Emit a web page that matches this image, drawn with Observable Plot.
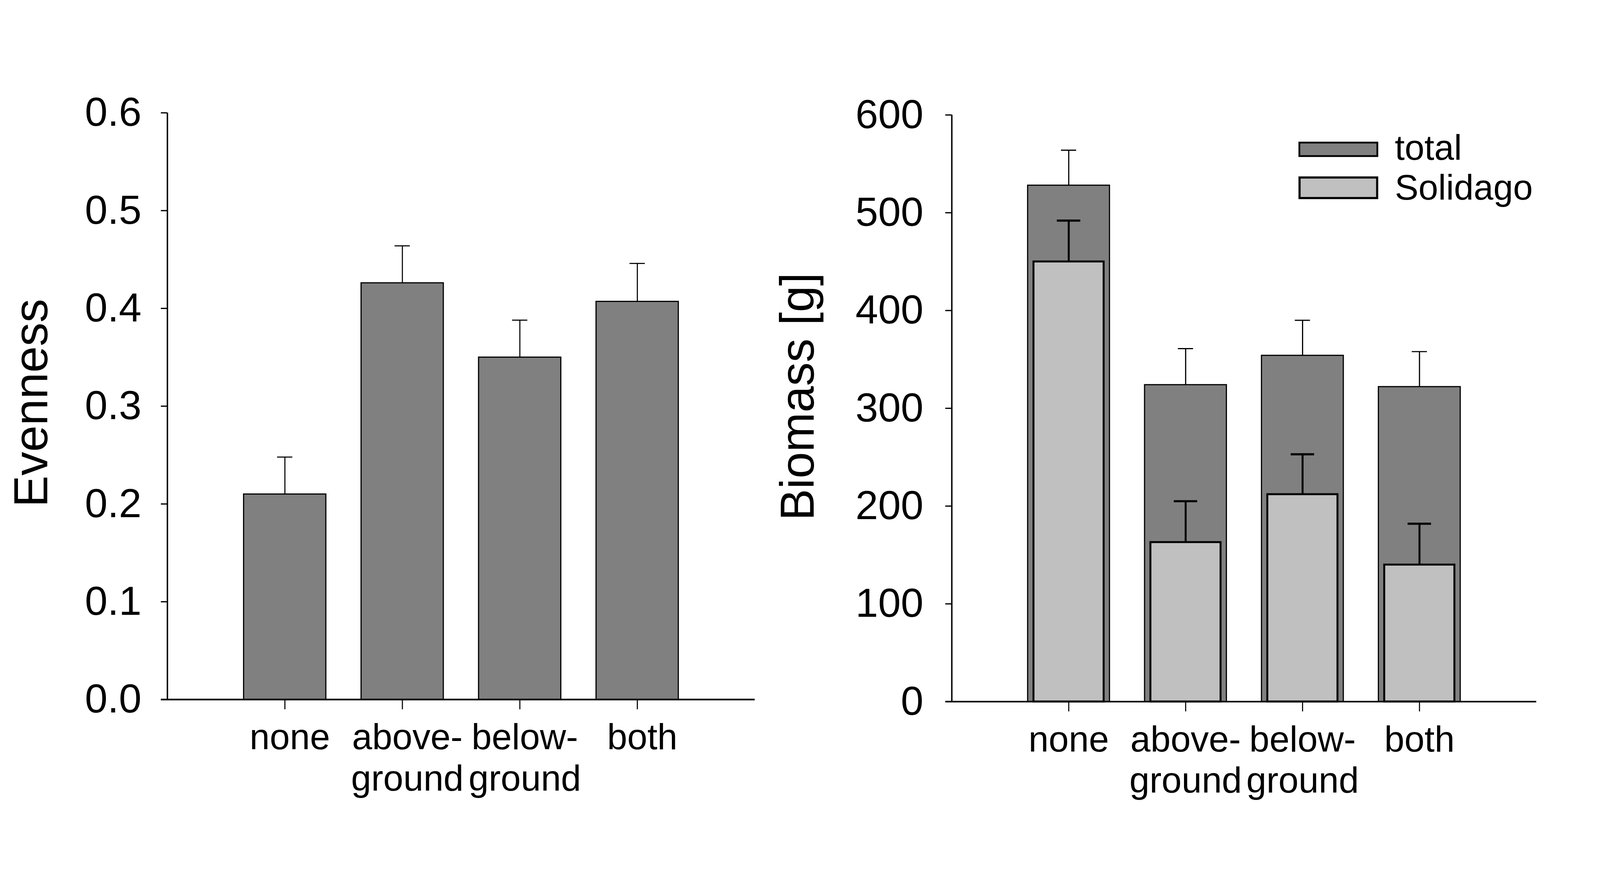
<!DOCTYPE html>
<html>
<head>
<meta charset="utf-8">
<script src="https://cdn.jsdelivr.net/npm/d3@7"></script>
<script src="https://cdn.jsdelivr.net/npm/@observablehq/plot@0.6"></script>
<style>
  html, body { margin: 0; padding: 0; background: #fff; overflow: hidden; }
  #wrap { position: relative; width: 4516px; height: 2258px; background: #fff;
          transform-origin: 0 0;
          font-family: 'Liberation Sans', Arial, sans-serif; }
  .panel { position: absolute; top: 0; }
  .panel svg { overflow: visible; }
  g[aria-label="y-axis label"] { font-size: 134px; }
  .sw { position: absolute; box-sizing: border-box; border-style: solid; border-color: #000; }
  .lt { position: absolute; font-size: 100px; line-height: 1; color: #000; white-space: nowrap; }
</style>
</head>
<body>
<div id="wrap">
  <div class="panel" id="left" style="left:0px"></div>
  <div class="panel" id="right" style="left:2258px"></div>
  <div class="sw" style="left:3665px;top:400px;width:225px;height:43px;border-width:5px;background:#808080"></div>
  <div class="sw" style="left:3665px;top:498px;width:225px;height:64px;border-width:6px;background:#c0c0c0"></div>
  <div class="lt" style="left:3937px;top:366px">total</div>
  <div class="lt" style="left:3937px;top:478px">Solidago</div>
</div>
<script>
// ---- data ----
const categories = ["none", "above-ground", "below-ground", "both"];
const tickLabels = ["none", "above-\nground", "below-\nground", "both"];

const evenness   = [0.210, 0.426, 0.350, 0.407];
const evennessSE = [0.038, 0.038, 0.038, 0.039];

const biomassTotal    = [528, 324, 354, 322];
const biomassTotalSE  = [36, 37, 36, 36];
const biomassSolidago   = [450, 163, 212, 140];
const biomassSolidagoSE = [42, 42, 41, 42];

const yTicksEven = [0, 0.1, 0.2, 0.3, 0.4, 0.5, 0.6];
const yTicksBio  = [0, 100, 200, 300, 400, 500, 600];

// ---- fit the 4516x2258 design to the window ----
function fit() {
  const s = Math.min(window.innerWidth / 4516, window.innerHeight / 2258);
  document.getElementById("wrap").style.transform = `scale(${s})`;
}
fit();
window.addEventListener("resize", fit);

// ---- styles ----
const FONT = "'Liberation Sans', Arial, sans-serif";
const DARK = "#808080", LIGHT = "#c0c0c0";
const HALF = 0.35;        // half bar width in category units
const INNER = 0.30;       // half width of inner (Solidago) bars
const CAP = 0.065, CAP2 = 0.1;

const rows = (vals, ses) => categories.map((c, k) => ({cat: c, i: k + 1, v: vals[k], se: ses[k]}));
const evenData = rows(evenness, evennessSE);
const totData = rows(biomassTotal, biomassTotalSE);
const solData = rows(biomassSolidago, biomassSolidagoSE);

function xAxes(dx) {
  return [
    Plot.axisX({ticks: [1, 2, 3, 4], tickFormat: () => "", tickSize: 28, strokeWidth: 3, label: null}),
    Plot.axisX({ticks: [1, 2, 3, 4], tickFormat: i => tickLabels[i - 1], tickSize: 0, tickPadding: 58,
                fontSize: 102, lineHeight: 1.14, label: null, dx: dx, fill: "#000"})
  ];
}

const left = Plot.plot({
  width: 2258, height: 2258,
  marginLeft: 472, marginRight: 128, marginTop: 300, marginBottom: 284,
  style: {fontFamily: FONT, background: "transparent", overflow: "visible", color: "#000"},
  x: {domain: [0, 5]},
  y: {domain: [0, 0.6], range: [1974, 318]},
  marks: [
    Plot.rectY(evenData, {x1: d => d.i - HALF, x2: d => d.i + HALF, y: "v", fill: DARK, stroke: "#000", strokeWidth: 3.3}),
    Plot.ruleX(evenData, {x: "i", y1: "v", y2: d => d.v + d.se, stroke: "#000", strokeWidth: 3}),
    Plot.ruleY(evenData, {y: d => d.v + d.se, x1: d => d.i - CAP, x2: d => d.i + CAP, stroke: "#000", strokeWidth: 3}),
    Plot.ruleX([0], {y1: 0, y2: 0.6, stroke: "#000", strokeWidth: 4}),
    Plot.ruleY([0], {x1: -0.054, x2: 5, stroke: "#000", strokeWidth: 4.5}),
    Plot.axisY({ticks: yTicksEven, tickFormat: d3.format(".1f"), tickSize: 18, tickPadding: 55, strokeWidth: 3.5,
                fontSize: 115, fill: "#000", label: "Evenness", labelAnchor: "center", labelArrow: "none", labelOffset: 434}),
    ...xAxes(14)
  ]
});
document.getElementById("left").appendChild(left);

const right = Plot.plot({
  width: 2258, height: 2258,
  marginLeft: 428, marginRight: 180, marginTop: 258, marginBottom: 278,
  style: {fontFamily: FONT, background: "transparent", overflow: "visible", color: "#000"},
  x: {domain: [0, 5]},
  y: {domain: [0, 600], range: [1980, 324]},
  marks: [
    Plot.rectY(totData, {x1: d => d.i - HALF, x2: d => d.i + HALF, y: "v", fill: DARK, stroke: "#000", strokeWidth: 3.3}),
    Plot.ruleX(totData, {x: "i", y1: "v", y2: d => d.v + d.se, stroke: "#000", strokeWidth: 3.3}),
    Plot.ruleY(totData, {y: d => d.v + d.se, x1: d => d.i - CAP, x2: d => d.i + CAP, stroke: "#000", strokeWidth: 3.3}),
    Plot.rectY(solData, {x1: d => d.i - INNER, x2: d => d.i + INNER, y: "v", fill: LIGHT, stroke: "#000", strokeWidth: 5.5}),
    Plot.ruleX(solData, {x: "i", y1: "v", y2: d => d.v + d.se, stroke: "#000", strokeWidth: 5.5}),
    Plot.ruleY(solData, {y: d => d.v + d.se, x1: d => d.i - CAP2, x2: d => d.i + CAP2, stroke: "#000", strokeWidth: 6}),
    Plot.ruleX([0], {y1: 0, y2: 600, stroke: "#000", strokeWidth: 4}),
    Plot.ruleY([0], {x1: -0.054, x2: 5, stroke: "#000", strokeWidth: 4.5}),
    Plot.axisY({ticks: yTicksBio, tickFormat: d3.format("d"), tickSize: 18, tickPadding: 62, strokeWidth: 3.5,
                fontSize: 115, fill: "#000", label: "Biomass [g]", labelAnchor: "center", labelArrow: "none", labelOffset: 485}),
    ...xAxes(0)
  ]
});
document.getElementById("right").appendChild(right);
</script>
</body>
</html>
